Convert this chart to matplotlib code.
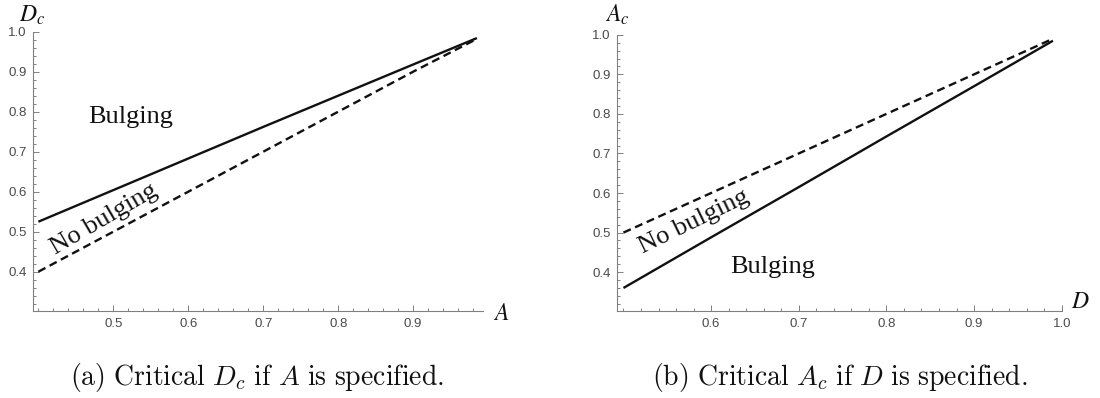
import matplotlib.pyplot as plt
from matplotlib.ticker import MultipleLocator, FixedLocator

plt.rcParams['font.family'] = ['Liberation Sans', 'DejaVu Sans']

# critical curves, panel (a): D_c against A
a_vals = [0.40, 0.50, 0.60, 0.70, 0.80, 0.90, 0.985]
dc_solid = [0.525, 0.604, 0.683, 0.762, 0.840, 0.918, 0.984]
dc_dashed = [0.40, 0.50, 0.60, 0.70, 0.80, 0.90, 0.982]

# panel (b): A_c against D
d_vals = [0.50, 0.60, 0.70, 0.80, 0.90, 0.99]
ac_solid = [0.360, 0.488, 0.615, 0.743, 0.870, 0.985]
ac_dashed = [0.50, 0.60, 0.70, 0.80, 0.90, 0.99]

a_major = [0.5, 0.6, 0.7, 0.8, 0.9]
d_major = [0.6, 0.7, 0.8, 0.9, 1.0]
y_major = [0.4, 0.5, 0.6, 0.7, 0.8, 0.9, 1.0]

AXIS_GREY = '#808080'
LABEL_GREY = '#4a4a4a'
SERIF = ['Liberation Serif', 'DejaVu Serif']

fig = plt.figure(figsize=(11, 3.98), dpi=100)
ax1 = fig.add_axes([0.0303, 0.2193, 0.4087, 0.7011])
ax2 = fig.add_axes([0.5612, 0.2193, 0.4040, 0.6933])


def style_axes(ax, xmajor):
    for side in ('top', 'right'):
        ax.spines[side].set_visible(False)
    for side in ('left', 'bottom'):
        ax.spines[side].set_color(AXIS_GREY)
        ax.spines[side].set_linewidth(0.8)
    ax.xaxis.set_major_locator(FixedLocator(xmajor))
    ax.yaxis.set_major_locator(FixedLocator(y_major))
    ax.xaxis.set_minor_locator(MultipleLocator(0.02))
    ax.yaxis.set_minor_locator(MultipleLocator(0.02))
    ax.xaxis.set_major_formatter(plt.FuncFormatter(lambda v, p: f'{v:.1f}'))
    ax.yaxis.set_major_formatter(plt.FuncFormatter(lambda v, p: f'{v:.1f}'))
    ax.tick_params(which='both', direction='in', color=AXIS_GREY, width=0.7)
    ax.tick_params(which='major', length=4.2, labelsize=9.5,
                   labelcolor=LABEL_GREY, pad=5)
    ax.tick_params(which='minor', length=2.2)
    ax.patch.set_alpha(0)


# (a)
ax1.plot(a_vals, dc_solid, color='#111111', lw=1.7, solid_capstyle='butt')
ax1.plot(a_vals, dc_dashed, color='#111111', lw=1.7, dashes=(3.4, 2.0))
ax1.set_xlim(0.3933, 0.993)
ax1.set_ylim(0.3025, 1.0)
style_axes(ax1, a_major)
ax1.text(0.523, 0.786, 'Bulging', family=SERIF, fontsize=19,
         ha='center', va='center', color='#111111')
ax1.text(0.488, 0.530, 'No bulging', family=SERIF, fontsize=19,
         ha='center', va='center', rotation=30.3, rotation_mode='anchor',
         color='#111111')

# (b)
ax2.plot(d_vals, ac_solid, color='#111111', lw=1.7, solid_capstyle='butt')
ax2.plot(d_vals, ac_dashed, color='#111111', lw=1.7, dashes=(3.4, 2.0))
ax2.set_xlim(0.493, 1.0)
ax2.set_ylim(0.3025, 1.0)
style_axes(ax2, d_major)
ax2.text(0.670, 0.413, 'Bulging', family=SERIF, fontsize=19,
         ha='center', va='center', color='#111111')
ax2.text(0.580, 0.527, 'No bulging', family=SERIF, fontsize=19,
         ha='center', va='center', rotation=26, rotation_mode='anchor',
         color='#111111')

# axis names
lbl_kw = dict(fontsize=17, ha='center', va='center', math_fontfamily='stix',
              color='#111111')
fig.text(0.0288, 0.962, r'$D_c$', **lbl_kw)
fig.text(0.456, 0.212, r'$A$', **lbl_kw)
fig.text(0.561, 0.963, r'$A_c$', **lbl_kw)
fig.text(0.982, 0.242, r'$D$', **lbl_kw)

# sub-captions
cap_kw = dict(fontsize=20, ha='center', va='baseline', math_fontfamily='cm',
              color='#111111')
fig.text(257.5 / 1100, 1 - 385 / 398,
         r'$\mathrm{(a)\ Critical\ }D_c\mathrm{\ if\ }A\mathrm{\ is\ specified.}$',
         **cap_kw)
fig.text(840 / 1100, 1 - 385 / 398,
         r'$\mathrm{(b)\ Critical\ }A_c\mathrm{\ if\ }D\mathrm{\ is\ specified.}$',
         **cap_kw)

fig.savefig('out.png', dpi=100)
